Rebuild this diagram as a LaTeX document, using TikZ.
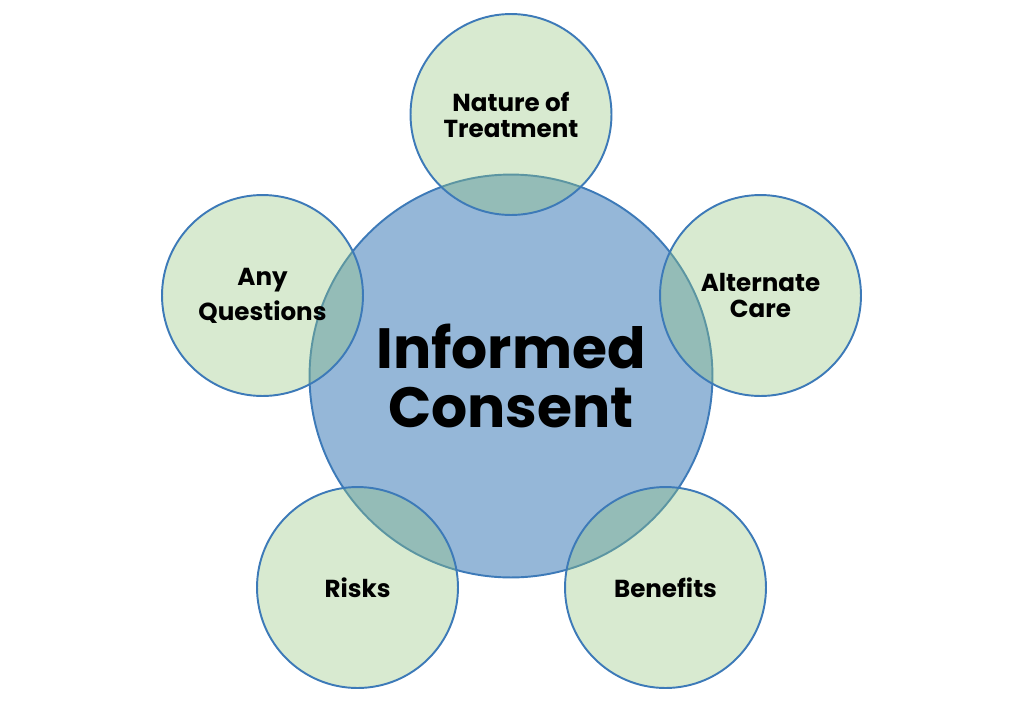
\documentclass[tikz,border=0pt]{standalone}
\usepackage{fontspec}
\setmainfont{Poppins}

\definecolor{ringblue}{RGB}{61,122,184}
\definecolor{coreblue}{RGB}{149,183,216}
\definecolor{leafgreen}{RGB}{147,198,125}

\begin{document}
\begin{tikzpicture}[x=0.02cm, y=-0.02cm,
    core/.style={circle, draw=ringblue, line width=1.1pt, fill=coreblue,
      minimum size=8.06cm, inner sep=0pt, align=center,
      font=\fontsize{32.3}{34}\selectfont\bfseries},
    leaf/.style={circle, draw=ringblue, line width=1.1pt, fill=leafgreen,
      fill opacity=0.36, text opacity=1, minimum size=4.02cm, inner sep=0pt,
      align=center, font=\fontsize{14}{14.8}\selectfont\bfseries}]
        % 余白
        \useasboundingbox (0,0) rectangle (1024,704);

        % 中央の円
        \node[core] (consent) at (511,376) {Informed\\Consent};

        % 周りの円
        \node[leaf] (nature) at (511,114.5) {Nature of\\Treatment};
        \node[leaf] (alternate) at (760.5,295.5) {Alternate\\Care};
        \node[leaf] (benefits) at (665.5,587.5) {Benefits};
        \node[leaf] (risks) at (357.5,587.5) {Risks};
        \node[leaf, font=\fontsize{14}{20}\selectfont\bfseries] (questions) at (262.5,295.5) {Any\\Questions};
      \end{tikzpicture}
\end{document}
